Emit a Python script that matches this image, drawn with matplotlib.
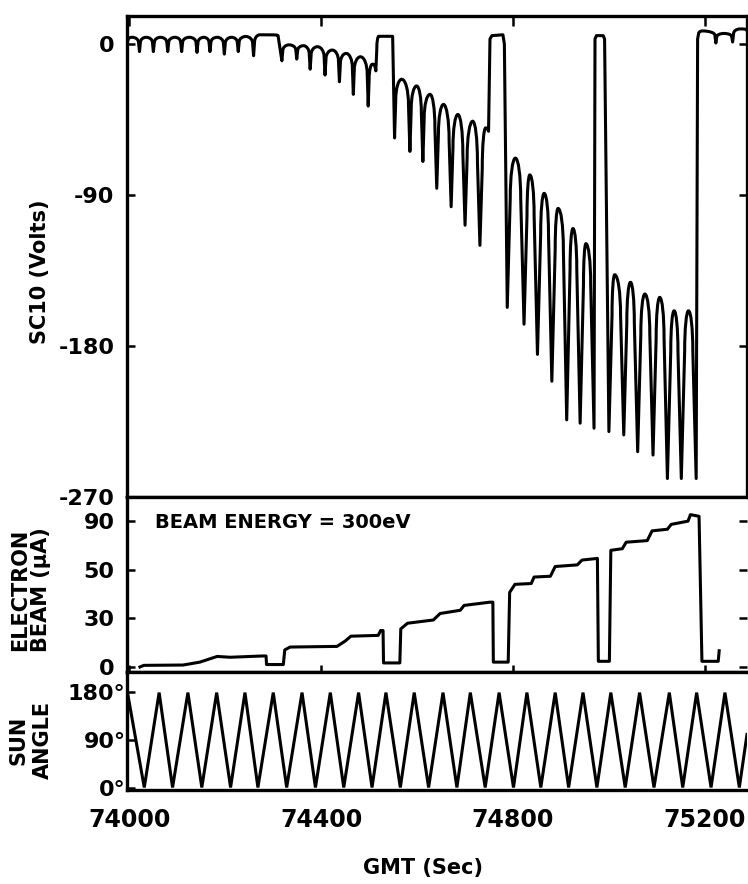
import matplotlib
matplotlib.use("Agg")
import matplotlib.pyplot as plt
from matplotlib.path import Path
from matplotlib.patches import PathPatch

# ---------------- data ----------------
# SC10 potential: key vertices (time, volts) and kind: L=corner, D=dip, A=arch top
sc10_t = [73996, 74006, 74021, 74035, 74050, 74065, 74080, 74095, 74109, 74125,
          74141, 74155, 74168, 74183, 74198, 74213, 74227, 74243, 74259, 74272,
          74310, 74318, 74333, 74349, 74363, 74377, 74392, 74408, 74423, 74438,
          74452, 74467, 74482, 74498, 74507, 74514, 74520, 74549, 74553, 74568,
          74585, 74599, 74612, 74627, 74641, 74655, 74671, 74685, 74700, 74716,
          74731, 74743, 74749, 74752, 74756, 74779, 74782, 74788, 74805, 74823,
          74835, 74851, 74865, 74881, 74894, 74912, 74925, 74940, 74952, 74969,
          74971, 74974, 74988, 74991, 75000, 75012, 75031, 75045, 75060, 75075,
          75092, 75106, 75122, 75136, 75151, 75166, 75182, 75185, 75195, 75223,
          75240, 75258, 75274, 75288]
sc10_v = [1.5, 4.0, -4.5, 4.0, -4.5, 4.0, -4.5, 4.0, -4.5, 4.0,
          -5.0, 4.0, -4.5, 4.0, -6.0, 4.0, -4.5, 4.5, -7.0, 5.5,
          5.0, -10.0, -0.5, -9.0, -1.0, -15.0, -1.6, -18.5, -3.6, -22.5,
          -5.6, -30.0, -7.6, -37.0, -12.0, -16.0, 4.6, 4.6, -56.0, -21.0,
          -64.0, -25.0, -70.0, -30.0, -86.0, -36.0, -97.0, -42.0, -108.0, -46.0,
          -120.0, -50.0, -52.0, 3.0, 5.0, 5.5, 0.0, -157.0, -68.0, -167.0,
          -78.0, -185.0, -89.0, -201.0, -98.0, -224.0, -110.0, -226.0, -119.0, -229.0,
          3.0, 5.0, 5.0, 3.0, -231.0, -137.5, -233.0, -142.0, -243.0, -149.0,
          -245.0, -151.0, -259.0, -159.0, -259.0, -159.0, -259.0, 3.0, 7.8, 0.6,
          6.3, 1.2, 9.0, 8.0]
sc10_kind = ("L A D A D A D A D A "
             "D A D A D A D A D A "
             "L D A D A D A D A D "
             "A D A D A D A L D A "
             "D A D A D A D A D A "
             "D A L L L L L D A D "
             "A D A D A D A D A D "
             "L L L L D A D A D A "
             "D A D A D A D L A D "
             "A D A L").split()

# Electron beam current (uA)
beam_t = [74022, 74030, 74112, 74147, 74183, 74210, 74279, 74285, 74286, 74321,
          74324, 74335, 74433, 74450, 74462, 74519, 74524, 74529, 74530, 74564,
          74566, 74580, 74634, 74648, 74690, 74698, 74752, 74758, 74759, 74790,
          74793, 74804, 74838, 74844, 74878, 74888, 74934, 74944, 74976, 74978,
          75001, 75004, 75028, 75036, 75080, 75090, 75122, 75130, 75165, 75170,
          75188, 75194, 75228, 75230]
beam_v = [0.0, 1.0, 1.2, 3.0, 6.5, 6.0, 6.8, 6.8, 1.5, 1.5,
          10.5, 12.3, 12.7, 16.0, 19.0, 19.5, 22.5, 22.5, 2.5, 2.5,
          23.5, 27.0, 29.0, 33.0, 35.0, 38.0, 40.0, 40.0, 3.0, 3.0,
          46.0, 51.0, 51.5, 55.5, 56.0, 62.0, 63.0, 66.0, 67.0, 3.5,
          3.5, 72.0, 73.0, 77.0, 78.0, 84.0, 85.0, 88.0, 90.0, 94.0,
          93.0, 3.5, 3.5, 10.0]

# Sun angle (deg): turning points
sun_t = [73996, 74031, 74062, 74090, 74122, 74151, 74182, 74211, 74241, 74268,
         74300, 74328, 74360, 74388, 74419, 74447, 74478, 74506, 74535, 74565,
         74594, 74624, 74654, 74683, 74711, 74742, 74771, 74801, 74829, 74858,
         74888, 74916, 74946, 74975, 75004, 75034, 75064, 75094, 75126, 75154,
         75183, 75213, 75242, 75272, 75288]
sun_v = [178, 1, 178, 1, 178, 1, 178, 1, 178, 1,
         178, 1, 178, 1, 178, 1, 178, 1, 178, 1,
         178, 1, 178, 1, 178, 1, 178, 1, 178, 1,
         178, 1, 178, 1, 178, 1, 178, 1, 178, 1,
         178, 1, 178, 1, 100]

sc10_ticks = [0, -90, -180, -270]
sc10_ticklabels = ["0", "-90", "-180", "-270"]
beam_ticks = [0, 30, 60, 90]
beam_ticklabels = ["0", "30", "50", "90"]
sun_ticks = [0, 90, 180]
sun_ticklabels = ["0°", "90°", "180°"]
gmt_ticks = [74000, 74400, 74800, 75200]
gmt_ticklabels = ["74000", "74400", "74800", "75200"]


def scallop_path(ts, vs, kinds):
    verts, codes = [], []
    n = len(ts)
    for i in range(n):
        t, v, k = ts[i], vs[i], kinds[i]
        if k != "A" or i == 0 or i == n - 1:
            verts.append((t, v))
            codes.append(Path.MOVETO if i == 0 else Path.LINETO)
            continue
        tp, vp = ts[i - 1], vs[i - 1]
        tn, vn = ts[i + 1], vs[i + 1]
        dl = max(v - vp, 0.0)
        dr = max(v - vn, 0.0)
        hl = min(0.35 * dl, 24.0)
        hr = min(0.35 * dr, 24.0)
        wl = min(max(0.07 * dl, 2.0), 7.0)
        wr = min(max(0.07 * dr, 2.0), 7.0)
        sl = min(tp + wl, t - 1.0)
        sr = max(tn - wr, t + 1.0)
        verts.append((sl, v - hl)); codes.append(Path.LINETO)
        verts += [(sl, v - 0.4477 * hl), (t - 0.5523 * (t - sl), v), (t, v)]
        codes += [Path.CURVE4] * 3
        verts += [(t + 0.5523 * (sr - t), v), (sr, v - 0.4477 * hr), (sr, v - hr)]
        codes += [Path.CURVE4] * 3
    return Path(verts, codes)


plt.rcParams["font.family"] = ["DejaVu Sans"]
W, H = 748, 884
fig = plt.figure(figsize=(W / 100, H / 100), dpi=100)

L, R = 127, 747
xl = (73995, 75288)
LW = 2.2
SPW = 2.4

def box(top, bottom):
    return [L / W, 1 - bottom / H, (R - L) / W, (bottom - top) / H]

ax1 = fig.add_axes(box(16, 497))
ax2 = fig.add_axes(box(497, 672))
ax3 = fig.add_axes(box(672, 790))

for ax in (ax1, ax2, ax3):
    ax.set_xlim(*xl)
    for s in ax.spines.values():
        s.set_linewidth(SPW)
    ax.set_xticks(gmt_ticks)

tickfont = dict(fontsize=16, fontweight="bold")

# top panel
ax1.add_patch(PathPatch(scallop_path(sc10_t, sc10_v, sc10_kind), fill=False,
                        lw=LW, ec="black", joinstyle="round", capstyle="round"))
ax1.set_ylim(-270, 16.7)
ax1.set_yticks(sc10_ticks)
ax1.set_yticklabels(sc10_ticklabels, **tickfont)
ax1.tick_params(axis="y", direction="in", length=6, width=1.8, left=True, right=True, pad=9)
ax1.tick_params(axis="x", direction="in", length=7, width=1.8, top=True, bottom=False,
                labeltop=False, labelbottom=False)

# middle panel
ax2.plot(beam_t, beam_v, color="black", lw=LW, solid_joinstyle="round")
ax2.set_ylim(-3.1, 104.9)
ax2.set_yticks(beam_ticks)
ax2.set_yticklabels(beam_ticklabels, **tickfont)
ax2.tick_params(axis="y", direction="in", length=6, width=1.8, left=True, right=True, pad=9)
ax2.tick_params(axis="x", direction="inout", length=10, width=1.8, labelbottom=False)
ax2.spines["right"].set_visible(False)
ax2.text(0.045, 0.857, "BEAM ENERGY = 300eV", transform=ax2.transAxes,
         fontsize=14, fontweight="bold", ha="left", va="center")

# bottom panel
ax3.plot(sun_t, sun_v, color="black", lw=LW, solid_joinstyle="miter")
ax3.set_ylim(-3.7, 216.4)
ax3.set_yticks(sun_ticks)
ax3.set_yticklabels(sun_ticklabels, **tickfont)
ax3.tick_params(axis="y", direction="in", length=6, width=1.8, left=True, right=False, pad=1)
ax3.set_xticklabels(gmt_ticklabels, fontsize=17, fontweight="bold")
ax3.tick_params(axis="x", length=0, pad=13)
ax3.spines["right"].set_visible(False)

# axis titles
fig.text(40 / W, 1 - 272 / H, "SC10 (Volts)", rotation=90, fontsize=15,
         fontweight="bold", ha="center", va="center")
fig.text(31 / W, 1 - 590 / H, "ELECTRON\nBEAM (μA)", rotation=90, fontsize=15,
         fontweight="bold", ha="center", va="center", multialignment="center",
         linespacing=1.05)
fig.text(31 / W, 1 - 740 / H, "SUN\nANGLE", rotation=90, fontsize=15,
         fontweight="bold", ha="center", va="center", multialignment="center",
         linespacing=1.25)
fig.text(423 / W, 1 - 868 / H, "GMT (Sec)", fontsize=15, fontweight="bold",
         ha="center", va="center")

fig.savefig("out.png", dpi=100)
